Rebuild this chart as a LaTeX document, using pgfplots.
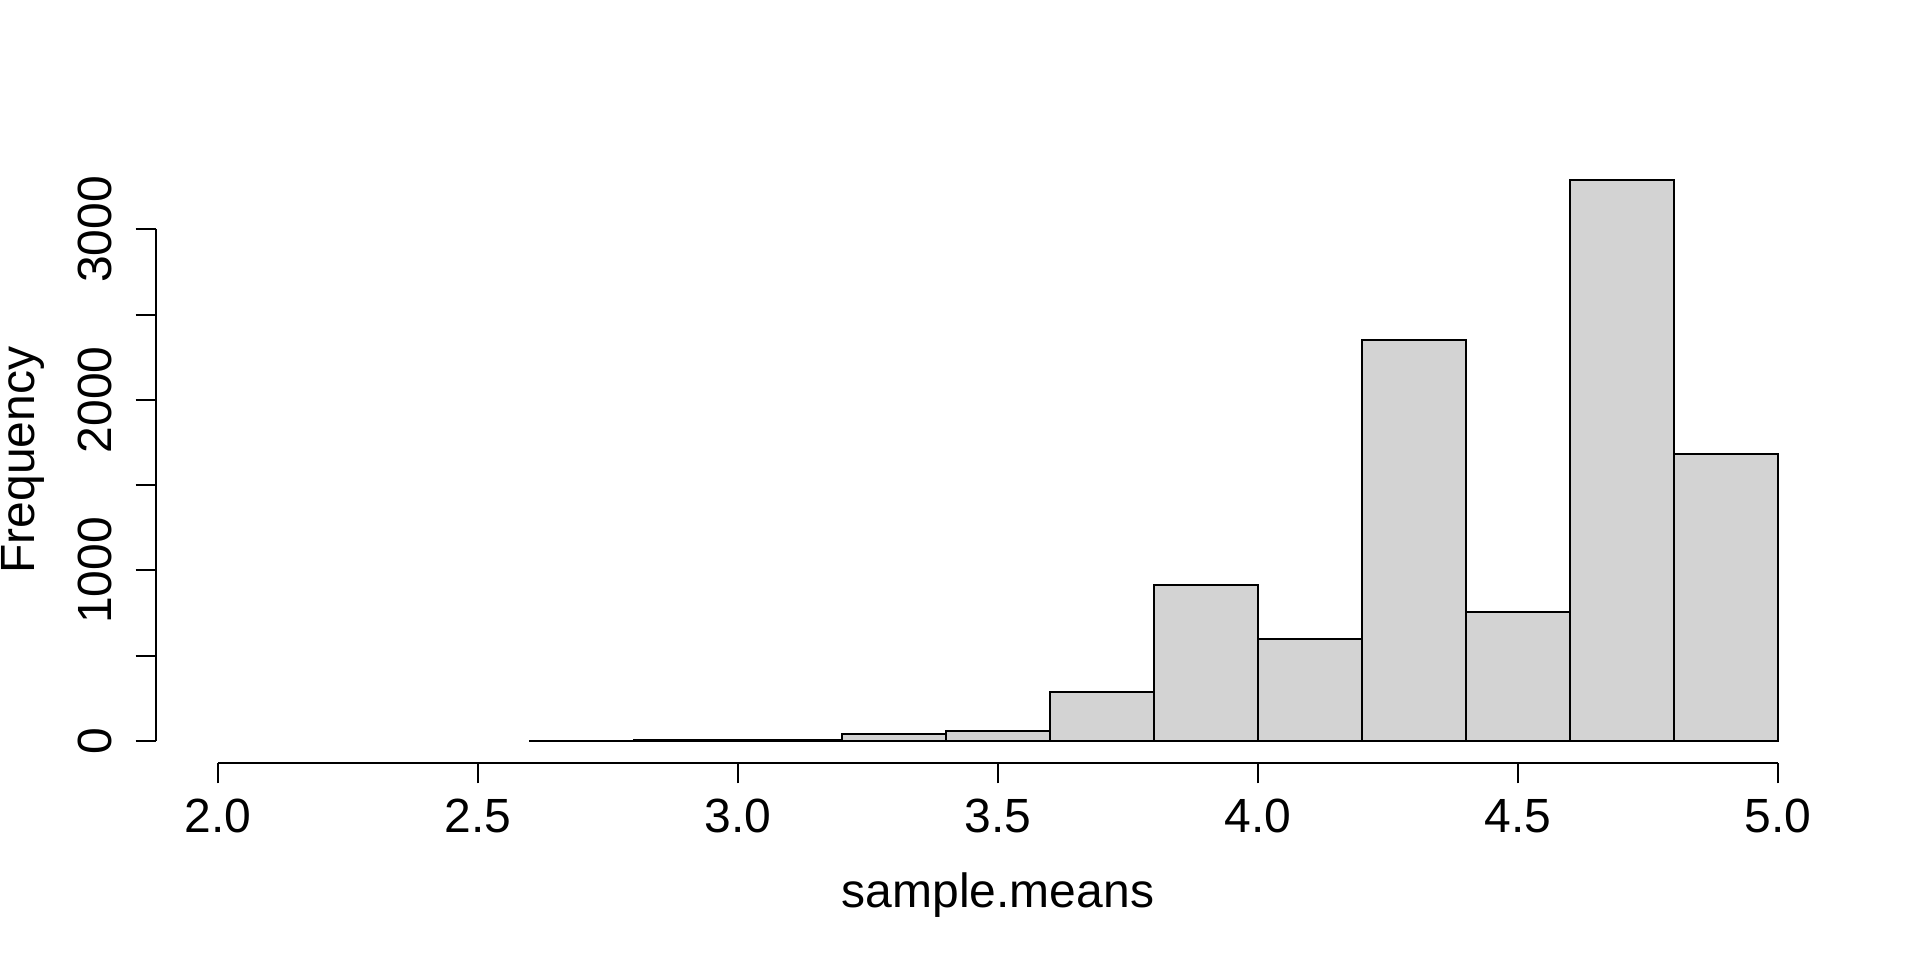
\documentclass[border=0pt]{standalone}
\usepackage{pgfplots}
\pgfplotsset{compat=1.18}
\usepackage{fontspec}
\setmainfont{Liberation Sans}
\definecolor{histfill}{HTML}{D3D3D3}
\pgfplotstableread{
x y
2.6 2
2.8 4
3.0 6
3.2 43
3.4 57
3.6 287
3.8 915
4.0 598
4.2 2351
4.4 754
4.6 3289
4.8 1681
5.0 1681
}\histdata
\begin{document}
\fontsize{12bp}{14bp}\selectfont
\begin{tikzpicture}
\path (0,0) rectangle (480bp,240bp);
\begin{axis}[
  at={(38.9bp,49.15bp)}, anchor=south west,
  scale only axis, width=421.2bp, height=151.45bp,
  xmin=1.88, xmax=5.12, ymin=-131.6, ymax=3420.5,
  axis x line*=bottom, axis y line*=left,
  axis line style={draw=none},
  tick align=outside, major tick length=5bp,
  tick style={black, line width=0.5bp},
  xtick={2,2.5,3,3.5,4,4.5,5},
  ytick={0,500,1000,1500,2000,2500,3000},
  yticklabels={0,,1000,,2000,,3000},
  xticklabels={2.0,2.5,3.0,3.5,4.0,4.5,5.0},
  xticklabel style={inner sep=0pt, anchor=north, font=\fontsize{12bp}{14bp}\selectfont},
  yticklabel style={rotate=90, inner sep=0pt, anchor=south, font=\fontsize{12bp}{14bp}\selectfont},
  xticklabel shift=3.75bp,
  yticklabel shift=5.75bp,
  clip=false,
]
\addplot[ybar interval, fill=histfill, draw=black, line width=0.5bp] table[x=x,y=y] {\histdata};
\draw[line width=0.5bp] (axis cs:2,-131.6) -- (axis cs:5,-131.6);
\draw[line width=0.5bp] (axis cs:1.88,0) -- (axis cs:1.88,3000);
\end{axis}
\node[anchor=base, inner sep=0pt, font=\fontsize{12bp}{14bp}\selectfont] at (249.5bp,13.25bp) {sample.means};
\node[anchor=base, inner sep=0pt, rotate=90, font=\fontsize{12bp}{14bp}\selectfont] at (8.5bp,125bp) {Frequency};
\end{tikzpicture}
\end{document}
